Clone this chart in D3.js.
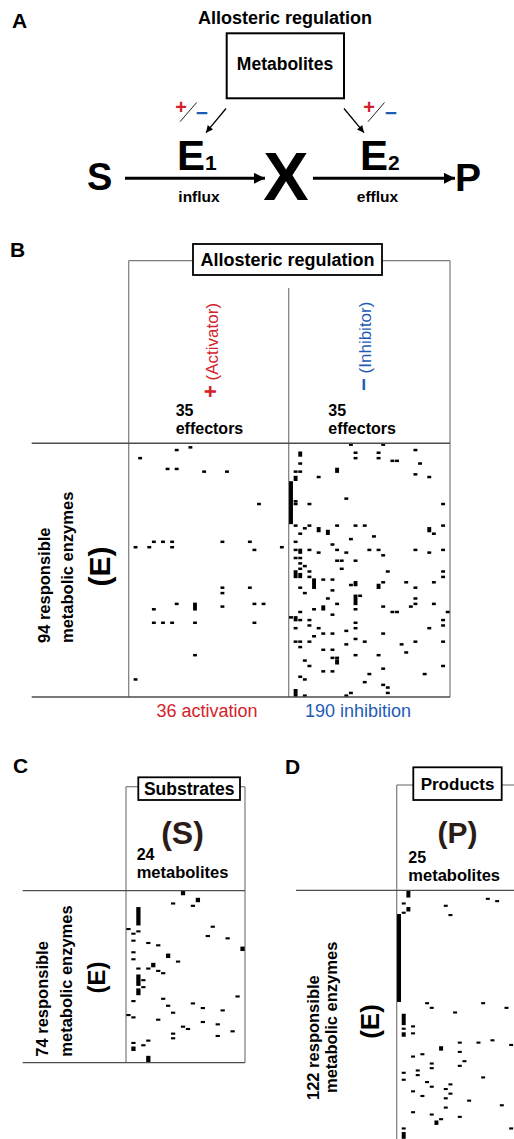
<!DOCTYPE html>
<html>
<head>
<meta charset="utf-8">
<script src="https://cdn.jsdelivr.net/npm/d3@7"></script>
<style>
  body { margin: 0; background: #fff; }
  svg { display: block; font-family: "Liberation Sans", Arial, sans-serif; }
</style>
</head>
<body>
<div id="chart"></div>
<script>
// ---- data: cells are [row, col, runLength] (runLength = consecutive rows, default 1)
const effectorCount = 35, enzymeCountB = 94;
const substrateCount = 24, enzymeCountC = 74;
const productCount = 25, enzymeCountD = 122;

const activationCells = [
  [2,10],[1,13],[5,2],[9,8],[9,10],[10,16],[10,21],[22,28],[38,1],[38,4],[36,5],[36,7],
  [36,9],[38,9],[36,20],[36,26],[39,27],[38,33],[53,20],[55,20],[53,26],[59,10],[61,5],
  [59,14,3],[60,20],[59,27],[59,29],[66,5],[66,7],[66,9],[66,14],[66,27],[78,14],[87,1]
];

const inhibitionCells = [
  [0,13],[0,20],[2,27],[3,2,2],[3,14],[3,19],[5,14],[5,19],[6,22],[6,23],[7,28],[7,2],
  [9,10,2],[10,1],[10,2],[11,27],[12,1,2],[12,6],[12,30],[14,0,16],[21,1],[22,1],[22,4],
  [20,12],[22,33],[30,1],[31,3],[30,4],[31,6,2],[30,10],[30,14],[30,16],[31,30,2],[33,31],
  [30,33],[33,2],[32,8,2],[35,13],[34,18],[36,1],[37,9],[39,1],[39,2,2],[39,4],[40,6],
  [39,10],[40,12],[39,17],[39,19],[41,20],[39,27],[40,30],[39,33],[42,1],[42,2],[43,10],
  [43,11],[43,14],[44,2],[45,3],[46,2],[46,11],
  [47,1,3],[48,2,2],[47,4],[49,4],[47,21],[47,33],[49,33],[50,5,4],[50,7],[50,9],[52,13],
  [51,14,2],[51,20],[52,19,2],[51,25],[53,27],[51,31],[53,2],[55,3],[54,9],[57,8],[59,10],
  [56,14,4],[56,15],[57,27],[59,27],[60,26],[59,31],[60,7,2],[61,5],[61,14],[60,20],
  [62,22],[62,23],[62,34],[62,2],[63,9],[64,0],[64,1,2],[65,2],[65,4],[67,4],[66,14],
  [68,14],[65,33],[67,33],[68,1],[68,6],[69,12],[70,7],[70,9],[71,5],[70,20],[68,30],
  [73,4],[73,1],[73,2],[72,14],[73,16],[74,12],[74,24],[73,27],[73,33],[75,2],[76,7],
  [76,9],[77,25],[78,14],[78,19],[79,9],[79,10],[80,3],[80,10,2],[82,4],[82,33],[83,20],
  [84,7],[84,9],[85,17],[85,29],[86,2],[87,3],[88,16],[89,20],[90,21],[92,21],[91,1,3],
  [93,3],[93,12],[92,13]
];

const substrateCells = [
  [0,11,2],[3,14,2],[5,9],[6,13],[7,2,8],[16,0],[18,1],[17,2],[15,17],[19,16],[20,20],
  [21,1],[22,4],[23,6],[24,23,2],[26,1],[27,8,2],[29,1],[30,10],[31,5,2],[33,2],[33,4],
  [34,6],[35,7],[36,2,5],[42,2,3],[38,3],[41,3],[47,1],[46,7],[49,8],[45,22],[48,13],
  [50,15],[51,19],[52,9],[53,0],[54,1],[55,6],[56,15],[57,18],[58,11],[59,12],[60,21],
  [61,9],[63,9],[62,18],[65,1],[64,4],[66,3],[67,1,2],[71,4,3]
];

const productCells = [
  [0,2,3],[5,1],[7,2,2],[9,1],[6,10],[10,11],[3,19],[4,21],[10,0,38],[48,6],[50,7],
  [48,18],[52,12],[50,23],[53,1,5],[59,1],[61,1,2],[58,3],[61,3],[65,13],[65,17],[64,20],
  [66,24],[67,9,2],[70,5],[71,3],[69,13],[73,14],[75,13],[74,7],[76,7],[77,4],[79,4],
  [78,1],[81,1],[80,18],[82,6],[84,7],[83,11],[85,10],[87,11],[86,3],[88,5],[89,10],
  [90,15],[93,10],[92,22],[95,3],[96,7],[97,13],[98,9],[99,8,2],[102,1],[104,1,3],[102,24]
];

// ---- drawing
const W = 514, H = 1139;
const RED = "#d3222a", BLUE = "#1f5bb5", FRAME = "#7f7a76", RULE = "#4d4d4d", DARK = "#2b1c18";

const svg = d3.select("#chart").append("svg")
    .attr("width", W)
    .attr("height", H);

svg.append("rect").attr("width", W).attr("height", H).attr("fill", "#fff");

const defs = svg.append("defs");
function marker(id, w, h){
  defs.append("marker")
      .attr("id", id)
      .attr("viewBox", "0 0 10 10")
      .attr("refX", 10).attr("refY", 5)
      .attr("markerWidth", w).attr("markerHeight", h)
      .attr("markerUnits", "userSpaceOnUse")
      .attr("orient", "auto")
    .append("path")
      .attr("d", "M0,0L10,5L0,10Z")
      .attr("fill", "#000");
}
marker("bigHead", 13, 11);
marker("smallHead", 8, 7);

function text(g, x, y, s, size, opts = {}){
  return g.append("text")
      .attr("x", x).attr("y", y)
      .attr("font-size", size)
      .attr("font-weight", opts.weight || "bold")
      .attr("text-anchor", opts.anchor || "start")
      .attr("fill", opts.fill || "#000")
      .text(s);
}

function vtext(g, x, y, s, size, opts = {}){
  return g.append("text")
      .attr("transform", `translate(${x},${y}) rotate(-90)`)
      .attr("font-size", size)
      .attr("font-weight", opts.weight || "bold")
      .attr("text-anchor", opts.anchor || "start")
      .attr("fill", opts.fill || "#000")
      .text(s);
}

function line(g, x1, y1, x2, y2, stroke, width){
  return g.append("line")
      .attr("x1", x1).attr("y1", y1).attr("x2", x2).attr("y2", y2)
      .attr("stroke", stroke).attr("stroke-width", width);
}

function titleBox(g, x, y, w, h, label, size, baseline){
  g.append("rect")
      .attr("x", x).attr("y", y).attr("width", w).attr("height", h)
      .attr("fill", "#fff").attr("stroke", "#000").attr("stroke-width", 1.8);
  text(g, x + w / 2, baseline, label, size, {anchor: "middle"});
}

function drawMatrix(g, cells, nRows, nCols, x0, x1, y0, y1){
  const xs = d3.scaleBand().domain(d3.range(nCols)).range([x0, x1]);
  const ys = d3.scaleBand().domain(d3.range(nRows)).range([y0, y1]);
  g.append("g").selectAll("rect")
    .data(cells)
    .join("rect")
      .attr("x", d => xs(d[1]) + 0.35)
      .attr("y", d => ys(d[0]) + 0.1)
      .attr("width", xs.bandwidth() - 0.7)
      .attr("height", d => (d[2] || 1) * ys.bandwidth() - 0.2)
      .attr("fill", "#000");
}

const total = cells => cells.reduce((s, d) => s + (d[2] || 1), 0);

// ---- Panel A
const a = svg.append("g");
text(a, 12, 28, "A", 21);
text(a, 285, 24, "Allosteric regulation", 18, {anchor: "middle"});
a.append("rect").attr("x", 226.7).attr("y", 33.3).attr("width", 117.3).attr("height", 65)
    .attr("fill", "none").attr("stroke", "#000").attr("stroke-width", 2);
text(a, 285, 70, "Metabolites", 17.5, {anchor: "middle"});

line(a, 226, 108.5, 206, 132.7, "#000", 1.3).attr("marker-end", "url(#smallHead)");
line(a, 344, 108.5, 364, 132.7, "#000", 1.3).attr("marker-end", "url(#smallHead)");

[[181, 202, 180, 196.7], [369, 391, 368, 384.5]].forEach(([px, mx, sx0, sx1]) => {
  text(a, px, 114, "+", 20, {anchor: "middle", fill: RED});
  text(a, mx, 120, "\u2212", 21, {anchor: "middle", fill: BLUE});
  line(a, sx0, 121.7, sx1, 102.5, "#222", 1);
});

const e1 = text(a, 177, 170, "E", 42);
e1.append("tspan").attr("font-size", 21).text("1");
const e2 = text(a, 360, 170, "E", 42);
e2.append("tspan").attr("font-size", 21).text("2");

text(a, 87, 190, "S", 38);
text(a, 286, 200, "X", 68, {anchor: "middle"});
text(a, 455, 191, "P", 39);

line(a, 125, 178.3, 265, 178.3, "#000", 3).attr("marker-end", "url(#bigHead)");
line(a, 313, 178.3, 455, 178.3, "#000", 3).attr("marker-end", "url(#bigHead)");
text(a, 199, 202, "influx", 15.5, {anchor: "middle"});
text(a, 377.5, 202, "efflux", 15.5, {anchor: "middle"});

// ---- Panel B
const b = svg.append("g");
text(b, 10, 257, "B", 21);
line(b, 128.7, 260.7, 128.7, 697, FRAME, 1.2);
line(b, 450, 260.7, 450, 697, FRAME, 1.2);
line(b, 288.7, 288, 288.7, 697, FRAME, 1.2);
line(b, 128.7, 260.7, 193, 260.7, FRAME, 1.2);
line(b, 382, 260.7, 450, 260.7, FRAME, 1.2);
titleBox(b, 193, 244, 189, 31, "Allosteric regulation", 18, 266);

const act = vtext(b, 218, 398, "+", 22, {fill: RED});
act.append("tspan").attr("font-size", 17).attr("font-weight", "normal").text(" (Activator)");
const inh = vtext(b, 371, 391, "\u2212", 22, {fill: BLUE});
inh.append("tspan").attr("font-size", 17).attr("font-weight", "normal").text(" (Inhibitor)");

[175.7, 328.3].forEach(x => {
  text(b, x, 416, String(effectorCount), 16);
  text(b, x, 434.2, "effectors", 16);
});

drawMatrix(b, activationCells, enzymeCountB, effectorCount, 128.7, 288.7, 443.3, 697);
drawMatrix(b, inhibitionCells, enzymeCountB, effectorCount, 288.7, 450, 443.3, 697);

line(b, 31.7, 443.3, 450, 443.3, RULE, 1.6);
line(b, 31.7, 697, 450, 697, RULE, 1.6);

vtext(b, 50.3, 643, enzymeCountB + " responsible", 16.5);
vtext(b, 72.5, 643, "metabolic enzymes", 16.5);
vtext(b, 110, 566.5, "(E)", 30, {anchor: "middle"});

text(b, 207, 717, total(activationCells) + " activation", 18,
     {anchor: "middle", weight: "normal", fill: RED});
text(b, 358, 717, total(inhibitionCells) + " inhibition", 18,
     {anchor: "middle", weight: "normal", fill: BLUE});

// ---- Panel C
const c = svg.append("g");
text(c, 13, 773, "C", 21);
line(c, 126, 786.7, 126, 1062.7, FRAME, 1.2);
line(c, 245, 786.7, 245, 1062.7, FRAME, 1.2);
line(c, 126, 786.7, 138.3, 786.7, FRAME, 1.2);
line(c, 240, 786.7, 245, 786.7, FRAME, 1.2);
titleBox(c, 138.3, 777.3, 101.7, 22.7, "Substrates", 17.5, 795);
text(c, 182.5, 843.5, "(S)", 32, {anchor: "middle", fill: DARK});
text(c, 136.7, 860.2, String(substrateCount), 16);
text(c, 136.7, 878.4, "metabolites", 16.5);

drawMatrix(c, substrateCells, enzymeCountC, substrateCount, 126, 245, 890.7, 1062.7);

line(c, 22.7, 890.7, 245, 890.7, RULE, 1.3);
line(c, 22.7, 1062.7, 245, 1062.7, RULE, 1.3);
vtext(c, 48, 1056.7, enzymeCountC + " responsible", 16.5);
vtext(c, 72, 1056.7, "metabolic enzymes", 16.5);
vtext(c, 104.5, 977.5, "(E)", 24, {anchor: "middle"});

// ---- Panel D
const dG = svg.append("g");
text(dG, 285, 774, "D", 21);
line(dG, 396.7, 785, 396.7, 1180, FRAME, 1.2);
line(dG, 396.7, 785, 413.3, 785, FRAME, 1.2);
line(dG, 501.7, 785, 520, 785, FRAME, 1.2);
titleBox(dG, 413.3, 767.3, 88.4, 32.7, "Products", 17, 789.5);
text(dG, 457.5, 843, "(P)", 30, {anchor: "middle", fill: DARK});
text(dG, 408.3, 862.5, String(productCount), 16);
text(dG, 408.3, 880.7, "metabolites", 16.5);

drawMatrix(dG, productCells, enzymeCountD, productCount, 396.7, 513.5, 890.7, 1173.7);

line(dG, 296, 890.3, 520, 890.3, RULE, 1.3);
vtext(dG, 318.7, 1100, enzymeCountD + " responsible", 16.5);
vtext(dG, 337, 1093, "metabolic enzymes", 16.5);
vtext(dG, 379, 1021.5, "(E)", 26, {anchor: "middle"});
</script>
</body>
</html>
